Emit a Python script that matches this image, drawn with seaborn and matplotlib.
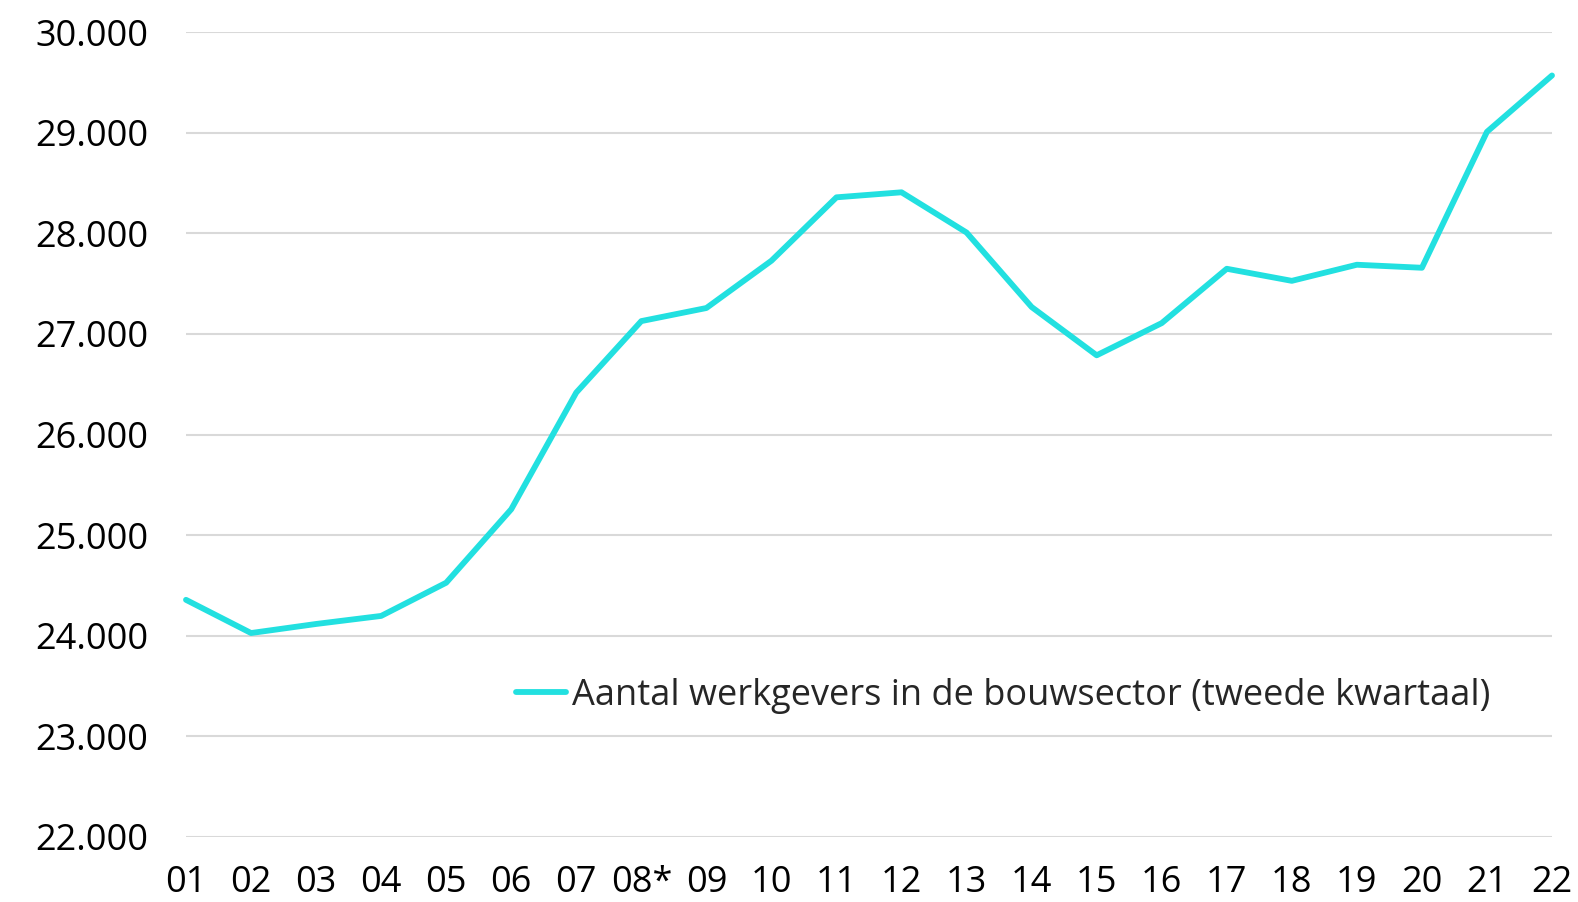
import matplotlib
matplotlib.use("Agg")
import matplotlib.pyplot as plt
import seaborn as sns
import pandas as pd
from matplotlib.ticker import FuncFormatter

years = ["01", "02", "03", "04", "05", "06", "07", "08*", "09", "10", "11",
         "12", "13", "14", "15", "16", "17", "18", "19", "20", "21", "22"]
werkgevers = [24357, 24027, 24117, 24197, 24527, 25257, 26417, 27127, 27257, 27727, 28357,
              28407, 28007, 27267, 26787, 27107, 27647, 27527, 27687, 27657, 29008, 29568]
series_label = "Aantal werkgevers in de bouwsector (tweede kwartaal)"

df = pd.DataFrame({"pos": range(len(years)), "value": werkgevers, "serie": series_label})

sns.set_theme(style="white")
plt.rcParams['font.family'] = ['Open Sans', 'DejaVu Sans']

fig = plt.figure(figsize=(15.78, 9.02), dpi=100)
ax = fig.add_axes([186/1578, 1-837/902, (1552-186)/1578, (837-32)/902])

sns.lineplot(data=df, x="pos", y="value", hue="serie", palette=["#22E0E0"],
             linewidth=4.2, ax=ax, clip_on=False)

ax.set_xlim(0, len(years)-1)
ax.set_ylim(22000, 30000)
ax.set_yticks(range(22000, 30001, 1000))
ax.yaxis.set_major_formatter(FuncFormatter(lambda v, p: f"{int(v):,}".replace(",", ".")))
ax.set_xticks(range(len(years)))
ax.set_xticklabels(years)
ax.set_xlabel("")
ax.set_ylabel("")
ax.grid(axis="y", color="#d9d9d9", linewidth=1.5)
ax.set_axisbelow(True)
for s in ax.spines.values():
    s.set_visible(False)
ax.tick_params(axis="both", length=0, labelsize=26, colors="black")
ax.tick_params(axis="y", pad=27)
ax.tick_params(axis="x", pad=20)

leg = ax.legend(loc="center", bbox_to_anchor=(0.598, 0.175), frameon=False,
                fontsize=26, handlelength=1.4, handletextpad=0.15)

fig.savefig("out.png", dpi=100)
